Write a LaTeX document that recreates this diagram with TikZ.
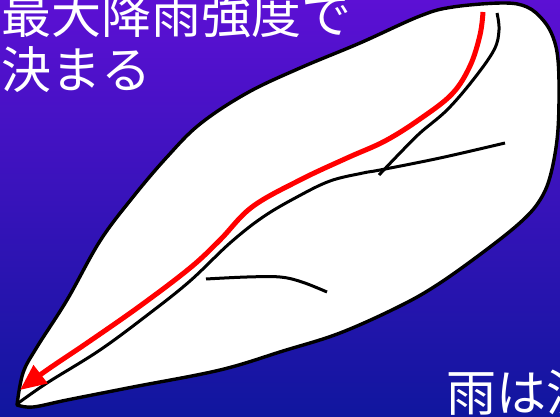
\documentclass[tikz,border=0pt]{standalone}
\usepackage{fontspec}
\newfontfamily\jp{Noto Sans CJK JP}
\usetikzlibrary{arrows.meta}
\definecolor{bgtop}{RGB}{92,16,212}
\definecolor{bgbot}{RGB}{16,22,158}
\begin{document}
\begin{tikzpicture}[x=1pt,y=-1pt,
  basin/.style={draw=black,line width=3.4pt,fill=white,line join=round},
  river/.style={draw=black,line width=3pt},
  flowpath/.style={draw=red,line width=5pt,-{Triangle[length=26pt,width=22pt]}},
  caption/.style={text=white,font=\jp\fontsize{50}{56}\selectfont,inner sep=0pt,anchor=base west}]
  % background
  \shade[top color=bgtop,bottom color=bgbot] (0,0) rectangle (560,417);
  \useasboundingbox (0,0) rectangle (560,417);
  \clip (0,0) rectangle (560,417);
  % catchment outline
  \path[basin] plot[smooth,tension=0.6] coordinates {
    (17,405) (23,373) (37,347) (67,300) (100,241) (133,197) (167,157)
    (200,124) (247,93) (300,68) (360,43) (420,16) (453,7) (503,3)
    (527,7) (543,20) (553,37) (558,60) (559,100) (557,140) (550,177)
    (540,200) (523,220) (490,247) (440,283) (400,306) (340,333)
    (283,351) (220,370) (133,387) (67,400) (33,407) (17,405)} -- cycle;
  % main channel
  \draw[river] plot[smooth,tension=0.6] coordinates {
    (17,404) (47,383) (100,350) (150,313) (190,281) (230,243) (263,217)
    (297,197) (330,181) (363,173) (380,170) (440,158) (505,143)};
  % upper tributary
  \draw[river] plot[smooth,tension=0.6] coordinates {
    (379,175) (400,153) (420,133) (447,110) (473,80) (494,50) (499,30) (497,13)};
  % lower tributary
  \draw[river] plot[smooth,tension=0.6] coordinates {
    (206,279) (247,277) (280,277) (302,282) (327,292)};
  % longest flow path
  \draw[flowpath] plot[smooth,tension=0.6] coordinates {
    (483,12) (480,35) (470,66) (452,94) (420,119) (385,141)
    (347,158) (300,180) (252,207) (220,240) (190,268)
    (140,306) (87,343) (47,370) (20,390)};
  % captions
  \node[caption] (t1) at (1,34) {最大降雨強度で};
  \node[caption] (t2) at (1,89) {決まる};
  \node[caption] (t3) at (446,411) {雨は流};
\end{tikzpicture}
\end{document}
